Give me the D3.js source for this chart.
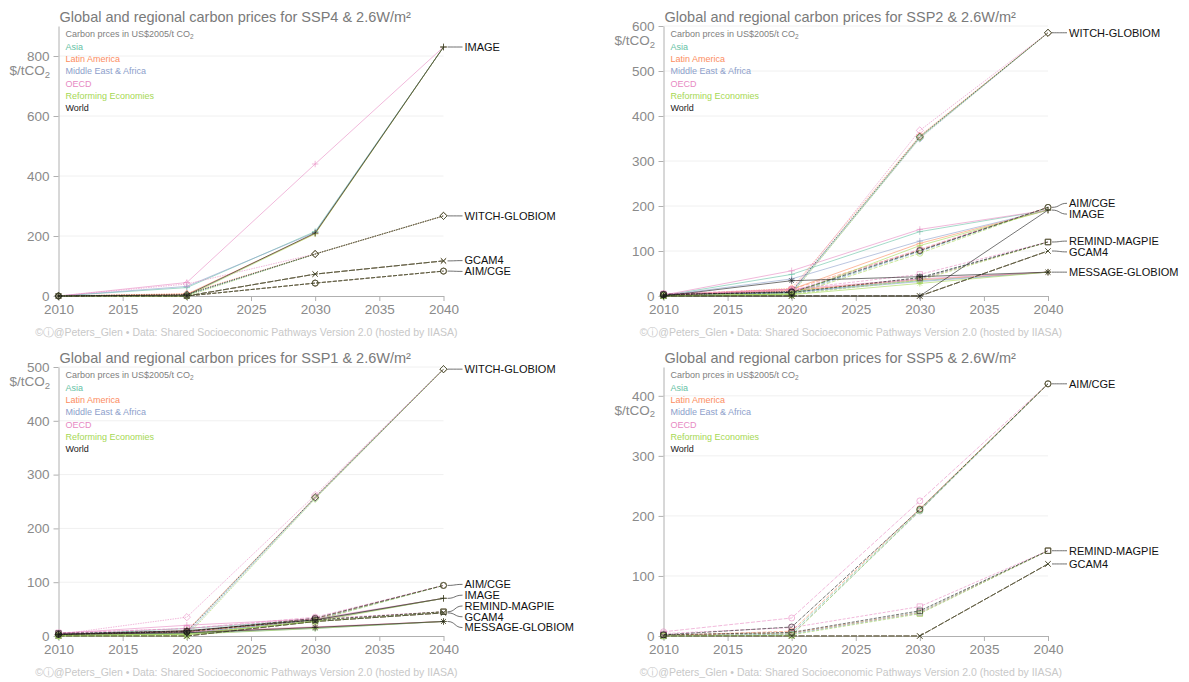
<!DOCTYPE html>
<html><head><meta charset="utf-8">
<script src="https://cdn.jsdelivr.net/npm/d3@7"></script>
<style>
body{margin:0;background:#fff;}
svg{display:block;font-family:"Liberation Sans", Arial, Helvetica, sans-serif;}
</style>
</head><body><svg id="chart" width="1189" height="682"></svg>
<script>
// ---------------- DATA ----------------
const years = [2010, 2020, 2030, 2040];
const xTickYears = [2010, 2015, 2020, 2025, 2030, 2035, 2040];
const regions = ["Asia", "Latin America", "Middle East & Africa", "OECD", "Reforming Economies", "World"];
const legendHeader = "Carbon prces in US$2005/t CO";
const footerText = "©ⓘ@Peters_Glen  •  Data: Shared Socioeconomic Pathways Version 2.0 (hosted by IIASA)";

// one row per region (order of `regions`), values for 2010, 2020, 2030, 2040 in US$2005/tCO2
// ---- SSP4 ----
const ssp4_IMAGE = [[0,28,215,830],[0,6,208,830],[0,32,212,830],[0,45,440,830],[0,0,207,830],[0,3,210,830]];
const ssp4_WITCH = [[0,4,140,267],[0,8,140,267],[0,2,140,267],[0,40,140,267],[0,0,140,267],[0,5,140,267]];
const ssp4_GCAM4 = [[0,0,73,117],[0,0,73,117],[0,0,73,117],[0,0,73,117],[0,0,73,117],[0,0,73,117]];
const ssp4_AIM = [[0,0,43,83],[0,0,43,83],[0,0,43,83],[0,0,43,83],[0,0,43,83],[0,0,43,83]];
const ssp4_yTicks = [0, 200, 400, 600, 800];
// ---- SSP2 ----
const ssp2_WITCH = [[2,8,352,585],[2,17,356,585],[1,6,350,585],[3,12,368,585],[1,4,352,585],[2,10,354,585]];
const ssp2_IMAGE = [[1,48,143,191],[1,15,117,191],[1,38,122,191],[2,56,148,191],[0,5,112,191],[0,0,0,191]];
const ssp2_AIM = [[2,6,100,197],[3,15,102,197],[1,4,99,197],[5,10,104,197],[0,2,95,197],[4,8,101,197]];
const ssp2_REMIND = [[2,7,40,120],[2,12,38,120],[1,5,38,120],[5,15,48,120],[1,4,35,120],[3,8,41,120]];
const ssp2_GCAM4 = [[0,0,0,100],[0,0,0,100],[0,0,0,100],[0,0,0,100],[0,0,0,100],[0,0,0,100]];
const ssp2_MESSAGE = [[0,10,34,53],[0,12,36,53],[0,8,32,53],[1,15,38,53],[0,3,28,53],[0,34,43,53]];
const ssp2_yTicks = [0, 100, 200, 300, 400, 500, 600];
// ---- SSP1 ----
const ssp1_WITCH = [[1,5,257,496],[2,10,258,496],[0,3,256,496],[3,35,262,496],[0,0,255,496],[3,8,258,496]];
const ssp1_AIM = [[2,6,31,94],[2,8,32,94],[1,4,30,94],[5,14,35,94],[0,2,29,94],[3,8,33,94]];
const ssp1_IMAGE = [[2,14,30,70],[2,8,29,70],[1,6,28,70],[5,20,32,70],[1,4,27,70],[3,10,30,70]];
const ssp1_REMIND = [[3,6,29,45],[3,7,29,45],[2,5,28,45],[6,14,32,45],[2,4,27,45],[5,9,30,45]];
const ssp1_GCAM4 = [[0,0,27,43],[0,0,27,43],[0,0,27,43],[0,0,27,43],[0,0,27,43],[0,0,27,43]];
const ssp1_MESSAGE = [[2,5,15,27],[2,6,16,27],[1,4,14,27],[4,8,17,27],[1,3,14,27],[3,6,16,27]];
const ssp1_yTicks = [0, 100, 200, 300, 400, 500];
// ---- SSP5 ----
const ssp5_AIM = [[1,5,210,420],[1,8,212,420],[0,2,208,420],[7,30,225,420],[0,1,209,420],[2,15,211,420]];
const ssp5_REMIND = [[1,4,40,142],[1,5,39,142],[0,3,38,142],[4,14,49,142],[0,2,37,142],[2,6,42,142]];
const ssp5_GCAM4 = [[0,0,0,120],[0,0,0,120],[0,0,0,120],[0,0,0,120],[0,0,0,120],[0,0,0,120]];
const ssp5_yTicks = [0, 100, 200, 300, 400];

const panels = [
  {ssp: "SSP4", yMax: 900, yTicks: ssp4_yTicks,
   models: [["IMAGE", ssp4_IMAGE], ["WITCH-GLOBIOM", ssp4_WITCH], ["GCAM4", ssp4_GCAM4], ["AIM/CGE", ssp4_AIM]]},
  {ssp: "SSP2", yMax: 600, yTicks: ssp2_yTicks,
   models: [["WITCH-GLOBIOM", ssp2_WITCH], ["AIM/CGE", ssp2_AIM], ["IMAGE", ssp2_IMAGE], ["REMIND-MAGPIE", ssp2_REMIND], ["GCAM4", ssp2_GCAM4], ["MESSAGE-GLOBIOM", ssp2_MESSAGE]]},
  {ssp: "SSP1", yMax: 500, yTicks: ssp1_yTicks,
   models: [["WITCH-GLOBIOM", ssp1_WITCH], ["AIM/CGE", ssp1_AIM], ["IMAGE", ssp1_IMAGE], ["REMIND-MAGPIE", ssp1_REMIND], ["GCAM4", ssp1_GCAM4], ["MESSAGE-GLOBIOM", ssp1_MESSAGE]]},
  {ssp: "SSP5", yMax: 448, yTicks: ssp5_yTicks,
   models: [["AIM/CGE", ssp5_AIM], ["REMIND-MAGPIE", ssp5_REMIND], ["GCAM4", ssp5_GCAM4]]}
];

// ---------------- STYLES / LAYOUT ----------------
const regionColors = ["#66c2a5", "#fc8d62", "#8da0cb", "#e78ac3", "#a6d854", "#1a1a1a"];
const modelDash = {"AIM/CGE": "4,1.5", "IMAGE": null, "GCAM4": "6,1.5", "WITCH-GLOBIOM": "1.5,1",
                   "REMIND-MAGPIE": "3,1.5", "MESSAGE-GLOBIOM": null};
const markerPath = {
  "AIM/CGE": "M3,0A3,3 0 1,1 -3,0A3,3 0 1,1 3,0Z",
  "IMAGE": "M-3.2,0H3.2M0,-3.2V3.2",
  "GCAM4": "M-2.6,-2.6L2.6,2.6M-2.6,2.6L2.6,-2.6",
  "WITCH-GLOBIOM": "M0,-3.6L3.6,0L0,3.6L-3.6,0Z",
  "REMIND-MAGPIE": "M-2.7,-2.7H2.7V2.7H-2.7Z",
  "MESSAGE-GLOBIOM": "M-3.2,0H3.2M0,-3.2V3.2M-2.3,-2.3L2.3,2.3M-2.3,2.3L2.3,-2.3"
};
const layout = [
  {x0: 58.5, x1: 443.5, y0: 296, yTop: 26},
  {x0: 663.5, x1: 1048, y0: 296, yTop: 26},
  {x0: 58.5, x1: 443.5, y0: 636, yTop: 367},
  {x0: 663.5, x1: 1048, y0: 636, yTop: 367}
];

const svg = d3.select("#chart");

panels.forEach((p, pi) => {
  const L = layout[pi];
  const g = svg.append("g");
  const x = d3.scaleLinear().domain([2010, 2040]).range([L.x0, L.x1]);
  const y = d3.scaleLinear().domain([0, p.yMax]).range([L.y0, L.yTop]);

  // gridlines
  g.selectAll("line.grid").data(p.yTicks.filter(t => t > 0)).enter().append("line")
    .attr("x1", L.x0).attr("x2", L.x1).attr("y1", d => y(d)).attr("y2", d => y(d))
    .attr("stroke", "#f0f0f0").attr("stroke-width", 1);

  // y axis
  const yAxis = d3.axisLeft(y).tickValues(p.yTicks).tickSize(5).tickPadding(4).tickSizeOuter(0);
  const ya = g.append("g").attr("transform", `translate(${L.x0},0)`).call(yAxis);
  ya.select(".domain").attr("stroke", "#b0b0b0");
  ya.selectAll(".tick line").attr("stroke", "#b0b0b0");
  ya.selectAll(".tick text").attr("fill", "#8a8a8a").style("font-size", "13.5px").style("font-family", "inherit");

  // x axis
  const xAxis = d3.axisBottom(x).tickValues(xTickYears).tickFormat(d3.format("d")).tickSize(5).tickPadding(3).tickSizeOuter(0);
  const xa = g.append("g").attr("transform", `translate(0,${L.y0})`).call(xAxis);
  xa.select(".domain").attr("stroke", "#b0b0b0");
  xa.selectAll(".tick line").attr("stroke", "#b0b0b0");
  xa.selectAll(".tick text").attr("fill", "#8a8a8a").style("font-size", "13.5px").style("font-family", "inherit");

  // unit label under top tick
  const topTick = p.yTicks[p.yTicks.length - 1];
  const unit = g.append("text").attr("x", L.x0 - 8.5).attr("y", y(topTick) + 14).attr("dy", "0.35em")
    .attr("text-anchor", "end").attr("fill", "#8a8a8a").style("font-size", "13.5px");
  unit.append("tspan").text("$/tCO");
  unit.append("tspan").attr("dy", "0.3em").style("font-size", "9.5px").text("2");

  // title
  g.append("text").attr("x", L.x0 + 1).attr("y", L.yTop - 4).attr("fill", "#7a7a7a")
    .style("font-size", "14.5px").text(`Global and regional carbon prices for ${p.ssp} & 2.6W/m²`);

  // legend
  const lh = g.append("text").attr("x", L.x0 + 7).attr("y", L.yTop + 8.3).attr("dy", "0.35em")
    .attr("fill", "#808080").style("font-size", "9px");
  lh.append("tspan").text(legendHeader);
  lh.append("tspan").attr("dy", "0.3em").style("font-size", "6.5px").text("2");
  g.selectAll("text.leg").data(regions).enter().append("text").attr("class", "leg")
    .attr("x", L.x0 + 7).attr("y", (d, i) => L.yTop + 20.7 + i * 12.3).attr("dy", "0.35em")
    .attr("fill", (d, i) => regionColors[i]).style("font-size", "9px").text(d => d);

  // footer
  g.append("text").attr("x", L.x1 + 14).attr("y", L.y0 + 36).attr("dy", "0.35em")
    .attr("text-anchor", "end").attr("fill", "#c8c8c8").style("font-size", "10.5px").text(footerText);

  // series: regions first, World last
  const line = d3.line().x(d => x(d.year)).y(d => y(d.value));
  const series = [];
  [0, 1, 2, 3, 4, 5].forEach(ri => {
    p.models.forEach(([m, arr]) => {
      series.push({model: m, ri, pts: years.map((yr, k) => ({year: yr, value: arr[ri][k]}))});
    });
  });
  const sg = g.append("g");
  series.forEach(s => {
    sg.append("path").attr("d", line(s.pts)).attr("fill", "none")
      .attr("stroke", regionColors[s.ri]).attr("stroke-width", 0.6)
      .attr("stroke-dasharray", modelDash[s.model]);
    sg.selectAll(null).data(s.pts).enter().append("path")
      .attr("transform", d => `translate(${x(d.year)},${y(d.value)})`)
      .attr("d", markerPath[s.model]).attr("fill", "none")
      .attr("stroke", regionColors[s.ri]).attr("stroke-width", 0.6);
  });

  // model labels with collision avoidance
  const labs = p.models.map(([m, arr]) => ({model: m, yp: y(arr[5][3])}));
  labs.forEach(l => l.yl = l.yp);
  labs.sort((a, b) => a.yp - b.yp);
  const gap = 10.8;
  for (let it = 0; it < 300; it++) {
    for (let i = 0; i < labs.length - 1; i++) {
      const d = labs[i + 1].yl - labs[i].yl;
      if (d < gap) { const o = (gap - d) / 2; labs[i].yl -= o; labs[i + 1].yl += o; }
    }
  }
  labs.forEach(l => {
    const xp = x(2040);
    g.append("path")
      .attr("d", `M${xp + 4},${l.yp}C${xp + 12},${l.yp} ${xp + 11},${l.yl} ${xp + 19},${l.yl}`)
      .attr("fill", "none").attr("stroke", "#333").attr("stroke-width", 0.7);
    g.append("text").attr("x", xp + 21).attr("y", l.yl).attr("dy", "0.35em")
      .attr("fill", "#111").style("font-size", "11px").text(l.model);
  });
});
</script>
</body></html>
